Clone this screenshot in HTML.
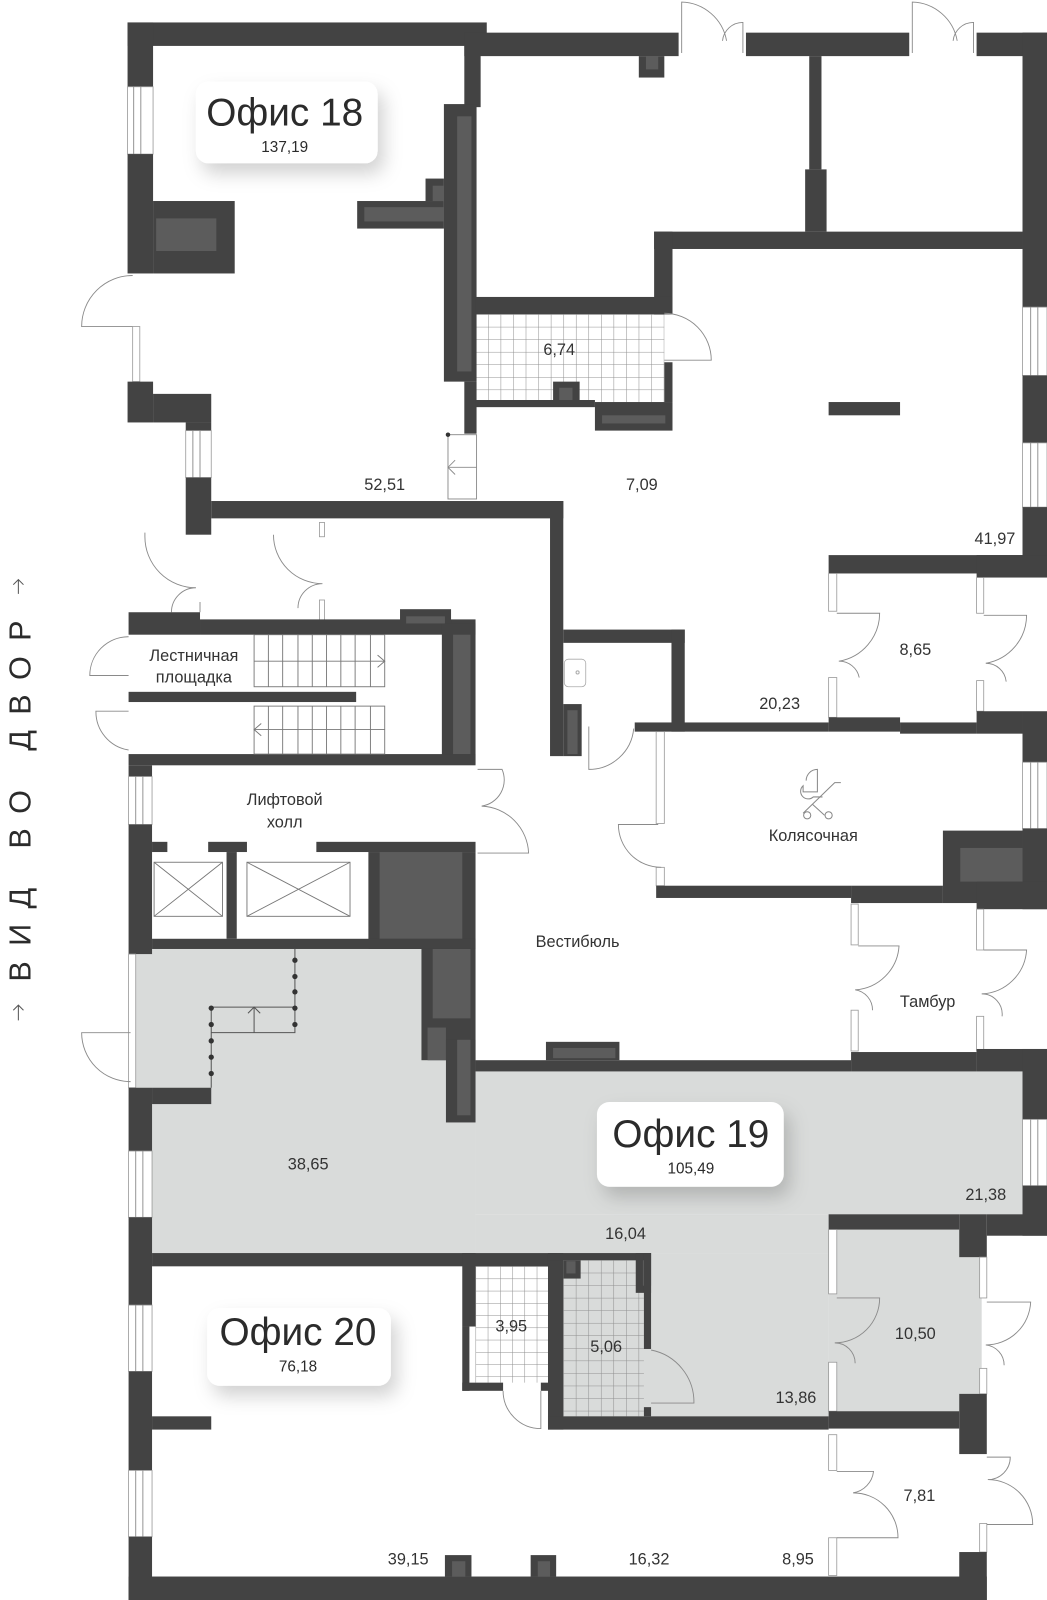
<!DOCTYPE html>
<html><head><meta charset="utf-8"><style>
html,body{margin:0;padding:0;background:#fff;}
svg{display:block;}
text{font-family:"Liberation Sans","DejaVu Sans",sans-serif;fill:#2b2b2b;}
.w{fill:#434343;}
.g{fill:#5c5c5c;}
.l{fill:none;stroke:#8a8a8a;stroke-width:0.9;}
.win{fill:#fff;stroke:#9a9a9a;stroke-width:0.8;}
.a{font-size:16px;text-anchor:middle;fill:#333;}
</style></head><body>
<svg width="1047" height="1600" viewBox="0 0 1026 1568" preserveAspectRatio="none" xmlns="http://www.w3.org/2000/svg">
<defs>
<pattern id="tw" x="466" y="308" width="12.3" height="12.3" patternUnits="userSpaceOnUse"><rect width="12.3" height="12.3" fill="#fff"/><path d="M0,0H12.3M0,0V12.3" stroke="#8f8f8f" stroke-width="1"/></pattern>
<pattern id="tg" x="552" y="1235" width="12.3" height="12.3" patternUnits="userSpaceOnUse"><rect width="12.3" height="12.3" fill="#d9dbda"/><path d="M0,0H12.3M0,0V12.3" stroke="#8f8f8f" stroke-width="1"/></pattern>
<pattern id="tw2" x="466" y="1241" width="12" height="12" patternUnits="userSpaceOnUse"><rect width="12" height="12" fill="#fff"/><path d="M0,0H12M0,0V12" stroke="#8f8f8f" stroke-width="1"/></pattern>
<filter id="sh" x="-30%" y="-30%" width="160%" height="180%"><feDropShadow dx="6" dy="10" stdDeviation="9" flood-color="#000" flood-opacity="0.18"/></filter>
</defs>

<!-- grey office 19 floor -->
<g fill="#d9dbda">
<rect x="133" y="930" width="333" height="298"/>
<rect x="466" y="1050" width="536" height="140"/>
<rect x="466" y="1190" width="346" height="38"/>
<rect x="537" y="1228" width="275" height="160"/>
<rect x="812" y="1205" width="150" height="178"/>
</g>

<!-- tiles -->
<rect x="466" y="308" width="185" height="86" fill="url(#tw)"/>
<rect x="552" y="1235" width="79" height="153" fill="url(#tg)"/>
<rect x="466" y="1241" width="71" height="114" fill="url(#tw2)"/>

<!-- ===== Office 18 ===== -->
<rect class="w" x="125" y="22" width="352" height="23"/>
<rect class="w" x="455" y="32" width="210" height="23"/>
<rect class="w" x="731" y="32" width="160" height="23"/>
<rect class="w" x="957" y="32" width="69" height="23"/>
<rect class="w" x="125" y="22" width="25" height="63"/>
<rect class="win" x="125" y="85" width="25" height="66"/><line class="l" x1="131" y1="85" x2="131" y2="151"/><line class="l" x1="138" y1="85" x2="138" y2="151"/>
<rect class="w" x="125" y="151" width="25" height="117"/>
<rect class="w" x="150" y="197" width="80" height="71"/><rect class="g" x="153" y="214" width="59" height="32"/>
<path class="l" d="M130,270 A50,50 0 0 0 80,320 L130,320"/>
<rect class="win" x="130" y="320" width="7" height="54"/>
<rect class="w" x="125" y="374" width="25" height="40"/>
<rect class="w" x="150" y="386" width="57" height="28"/>
<rect class="w" x="182" y="414" width="25" height="8"/>
<rect class="win" x="182" y="422" width="25" height="46"/><line class="l" x1="189" y1="422" x2="189" y2="468"/><line class="l" x1="196" y1="422" x2="196" y2="468"/>
<rect class="w" x="182" y="468" width="25" height="56"/>
<rect class="w" x="207" y="491" width="345" height="17"/>
<!-- central vertical -->
<rect class="w" x="455" y="45" width="16" height="60"/>
<rect class="w" x="435" y="102" width="32" height="272"/>
<rect class="g" x="448" y="114" width="14" height="250"/>
<rect class="w" x="455" y="374" width="12" height="51"/>
<rect class="w" x="417" y="175" width="18" height="22"/><rect class="g" x="424" y="182" width="11" height="15"/>
<rect class="w" x="350" y="197" width="85" height="27"/><rect class="g" x="357" y="203" width="78" height="14"/>
<rect fill="none" stroke="#8a8a8a" stroke-width="0.9" x="439" y="426" width="28" height="63"/>
<line class="l" x1="439" y1="458" x2="467" y2="458"/><path class="l" d="M446,451 L439,458 L446,465"/>
<circle cx="439" cy="426" r="2.2" fill="#333"/>

<!-- upper right rooms -->
<rect class="w" x="626" y="55" width="25" height="21"/><rect class="g" x="633" y="55" width="12" height="13"/>
<rect class="w" x="793" y="55" width="12" height="111"/>
<rect class="w" x="789" y="166" width="21" height="61"/>
<rect class="w" x="641" y="227" width="361" height="17"/>
<rect class="w" x="641" y="227" width="18" height="81"/>
<rect class="w" x="466" y="291" width="193" height="17"/>
<rect class="w" x="466" y="392" width="117" height="7"/>
<rect class="w" x="542" y="374" width="26" height="18"/><rect class="g" x="548" y="380" width="13" height="12"/>
<rect class="w" x="583" y="394" width="76" height="28"/><rect class="g" x="590" y="407" width="62" height="8"/>
<rect class="w" x="651" y="355" width="8" height="39"/>
<path class="l" d="M651,307 A46,46 0 0 1 697,353 L651,353"/>
<rect class="w" x="812" y="394" width="70" height="13"/>
<rect class="w" x="1002" y="32" width="24" height="269"/>
<rect class="win" x="1002" y="301" width="24" height="67"/><line class="l" x1="1010" y1="301" x2="1010" y2="368"/><line class="l" x1="1017" y1="301" x2="1017" y2="368"/>
<rect class="w" x="1002" y="368" width="24" height="66"/>
<rect class="win" x="1002" y="434" width="24" height="63"/><line class="l" x1="1010" y1="434" x2="1010" y2="497"/><line class="l" x1="1017" y1="434" x2="1017" y2="497"/>
<rect class="w" x="1002" y="497" width="24" height="66"/>
<!-- top doors -->
<path class="l" d="M668,52 L668,2 A46,46 0 0 1 712,40 M728,52 L728,22 A20,20 0 0 0 708,40"/>
<path class="l" d="M894,52 L894,2 A46,46 0 0 1 938,40 M954,52 L954,22 A20,20 0 0 0 934,40"/>

<!-- 8.65 -->
<rect class="w" x="812" y="544" width="214" height="18"/>
<rect class="w" x="957" y="544" width="69" height="22"/>
<rect class="win" x="812" y="562" width="8" height="37"/><rect class="win" x="812" y="664" width="8" height="39"/>
<rect class="win" x="957" y="566" width="7" height="35"/><rect class="win" x="957" y="667" width="7" height="30"/>
<path class="l" d="M820,601 L862,601 A48,48 0 0 1 822,648 A20,20 0 0 1 842,664"/>
<path class="l" d="M964,603 L1006,603 A48,48 0 0 1 966,650 A20,20 0 0 1 986,668"/>

<!-- vestibule left wall + WC -->
<rect class="w" x="539" y="491" width="13" height="250"/>
<rect class="w" x="552" y="690" width="18" height="51"/><rect class="g" x="556" y="696" width="10" height="43"/>
<rect class="w" x="552" y="617" width="119" height="13"/>
<rect class="w" x="658" y="617" width="13" height="100"/>
<rect class="w" x="622" y="708" width="190" height="9"/>
<rect class="w" x="812" y="703" width="70" height="14"/>
<rect class="w" x="882" y="708" width="75" height="11"/>
<rect class="w" x="957" y="697" width="45" height="22"/>
<rect class="w" x="1002" y="697" width="24" height="50"/>
<rect x="553" y="646" width="21" height="27" rx="4" fill="none" stroke="#aaa" stroke-width="0.8"/><circle cx="566" cy="659" r="1.5" fill="none" stroke="#aaa"/>
<path class="l" d="M577,712 L577,754 A44,44 0 0 0 621,714"/>
<!-- Kolyaska -->
<rect class="win" x="643" y="717" width="8" height="90"/><rect class="win" x="643" y="850" width="8" height="18"/>
<path class="l" d="M645,808 L606,808 A42,42 0 0 0 648,850"/>
<rect class="win" x="1002" y="747" width="24" height="65"/><line class="l" x1="1010" y1="747" x2="1010" y2="812"/><line class="l" x1="1017" y1="747" x2="1017" y2="812"/>
<rect class="w" x="1002" y="812" width="24" height="79"/>
<rect class="w" x="924" y="814" width="78" height="71"/><rect class="g" x="941" y="831" width="61" height="33"/>
<rect class="w" x="643" y="868" width="191" height="12"/>
<rect class="w" x="834" y="868" width="90" height="17"/>
<rect class="w" x="957" y="864" width="69" height="27"/>
<g fill="none" stroke="#888" stroke-width="1">
<path d="M790,765 A11,11 0 0 1 801,754 L801,776 L787,776 L787,770 A6,6 0 0 0 797,781 L806,781"/>
<path d="M787,797 L818,767 L824,767"/><path d="M796,788 L808,799"/>
<circle cx="791" cy="799" r="3.5"/><circle cx="812" cy="799" r="3.5"/>
</g>
<!-- Tambur -->
<rect class="win" x="834" y="886" width="7" height="40"/><rect class="win" x="834" y="990" width="7" height="40"/>
<rect class="win" x="957" y="891" width="7" height="40"/><rect class="win" x="957" y="996" width="7" height="34"/>
<path class="l" d="M841,927 L881,927 A46,46 0 0 1 838,970 A20,20 0 0 1 855,990"/>
<path class="l" d="M964,931 L1006,931 A46,46 0 0 1 962,974 A20,20 0 0 1 982,996"/>

<!-- stairs block -->
<path class="l" d="M142,522 L142,526 A50,50 0 0 0 192,576 A24,24 0 0 0 168,600 M196,590 L196,600"/>
<path class="l" d="M268,524 A48,48 0 0 0 316,572 A24,24 0 0 0 292,596"/>
<rect class="win" x="313" y="512" width="5" height="14"/><rect class="win" x="313" y="588" width="5" height="24"/>
<rect class="w" x="126" y="600" width="70" height="22"/>
<rect class="w" x="196" y="607" width="270" height="15"/>
<rect class="w" x="392" y="597" width="50" height="14"/><rect class="g" x="398" y="604" width="38" height="7"/>
<rect class="w" x="433" y="611" width="33" height="138"/><rect class="g" x="444" y="622" width="17" height="117"/>
<rect class="w" x="126" y="678" width="223" height="10"/>
<rect class="w" x="126" y="739" width="340" height="11"/>
<g stroke="#777" stroke-width="0.9" fill="none">
<rect x="249" y="622" width="128" height="51"/><line x1="249" y1="648" x2="377" y2="648"/>
<rect x="249" y="692" width="128" height="47"/><line x1="249" y1="715" x2="377" y2="715"/>
<path d="M263,622V673M277,622V673M292,622V673M306,622V673M320,622V673M334,622V673M348,622V673M363,622V673"/>
<path d="M263,692V739M277,692V739M292,692V739M306,692V739M320,692V739M334,692V739M348,692V739M363,692V739"/>
<path d="M370,642 L377,648 L370,654"/><path d="M256,709 L249,715 L256,721"/>
</g>
<path class="l" d="M126,624 A38,38 0 0 0 88,662 L126,662 M126,697 L94,697 A38,38 0 0 0 126,735"/>
<!-- lift hall -->
<rect class="w" x="126" y="750" width="23" height="11"/>
<rect class="win" x="126" y="761" width="23" height="47"/><line class="l" x1="133" y1="761" x2="133" y2="808"/><line class="l" x1="140" y1="761" x2="140" y2="808"/>
<rect class="w" x="126" y="808" width="23" height="127"/>
<rect class="w" x="149" y="825" width="15" height="10"/>
<rect class="w" x="204" y="825" width="38" height="10"/>
<rect class="w" x="310" y="825" width="156" height="10"/>
<rect class="w" x="222" y="835" width="10" height="85"/>
<rect class="w" x="361" y="835" width="105" height="95"/><rect class="g" x="372" y="835" width="81" height="85"/>
<g stroke="#777" stroke-width="0.9" fill="none">
<rect x="151" y="845" width="67" height="53"/><path d="M151,845L218,898M218,845L151,898"/>
<rect x="242" y="845" width="101" height="53"/><path d="M242,845L343,898M343,845L242,898"/>
</g>
<rect class="w" x="149" y="920" width="317" height="10"/>
<path class="l" d="M468,754 L492,754 A26,26 0 0 1 472,790 A48,48 0 0 1 518,836 L468,836"/>
<!-- vestibule / office 19 separators -->
<rect class="w" x="413" y="930" width="53" height="109"/>
<rect class="g" x="424" y="930" width="37" height="68"/>
<rect class="g" x="419" y="1007" width="18" height="32"/>
<rect class="w" x="437" y="1019" width="29" height="81"/><rect class="g" x="448" y="1019" width="13" height="74"/>
<rect class="w" x="466" y="1039" width="368" height="11"/>
<rect class="w" x="535" y="1021" width="72" height="18"/><rect class="g" x="542" y="1027" width="61" height="10"/>
<rect class="w" x="834" y="1031" width="123" height="19"/>
<rect class="w" x="957" y="1028" width="69" height="22"/>
<rect class="w" x="1002" y="1028" width="24" height="69"/>
<rect class="win" x="1002" y="1097" width="24" height="65"/><line class="l" x1="1010" y1="1097" x2="1010" y2="1162"/><line class="l" x1="1017" y1="1097" x2="1017" y2="1162"/>
<rect class="w" x="1002" y="1162" width="24" height="49"/>
<rect class="w" x="812" y="1190" width="128" height="15"/>
<rect class="w" x="940" y="1190" width="27" height="42"/>
<rect class="w" x="967" y="1190" width="59" height="21"/>
<!-- office 19 left + railing -->
<rect class="win" x="126" y="935" width="7" height="131"/>
<path class="l" d="M128,1012 L80,1012 A48,48 0 0 0 128,1060"/>
<rect class="w" x="126" y="1066" width="23" height="62"/>
<rect class="w" x="149" y="1066" width="58" height="16"/>
<g stroke="#555" stroke-width="1" fill="none">
<path d="M289,930 L289,1012 L207,1012 M207,987 L289,987 M207,987 L207,1066"/>
<path d="M249,1012 V987 M243,993 L249,987 L255,993"/>
</g>
<g fill="#333"><circle cx="289" cy="941" r="2.6"/><circle cx="289" cy="957" r="2.6"/><circle cx="289" cy="972" r="2.6"/><circle cx="289" cy="988" r="2.6"/><circle cx="289" cy="1004" r="2.6"/>
<circle cx="207" cy="988" r="2.6"/><circle cx="207" cy="1004" r="2.6"/><circle cx="207" cy="1020" r="2.6"/><circle cx="207" cy="1036" r="2.6"/><circle cx="207" cy="1052" r="2.6"/></g>
<!-- office 20 walls -->
<rect class="win" x="126" y="1128" width="23" height="65"/><line class="l" x1="133" y1="1128" x2="133" y2="1193"/><line class="l" x1="140" y1="1128" x2="140" y2="1193"/>
<rect class="w" x="126" y="1193" width="23" height="86"/>
<rect class="win" x="126" y="1279" width="23" height="65"/><line class="l" x1="133" y1="1279" x2="133" y2="1344"/><line class="l" x1="140" y1="1279" x2="140" y2="1344"/>
<rect class="w" x="126" y="1344" width="23" height="97"/>
<rect class="win" x="126" y="1441" width="23" height="65"/><line class="l" x1="133" y1="1441" x2="133" y2="1506"/><line class="l" x1="140" y1="1441" x2="140" y2="1506"/>
<rect class="w" x="126" y="1506" width="23" height="62"/>
<rect class="w" x="149" y="1388" width="58" height="13"/>
<rect class="w" x="149" y="1228" width="397" height="13"/>
<rect class="w" x="453" y="1228" width="13" height="72"/>
<rect class="w" x="453" y="1300" width="7" height="63"/>
<rect class="w" x="453" y="1355" width="40" height="8"/>
<rect class="w" x="530" y="1355" width="7" height="8"/>
<path class="l" d="M493,1363 A37,37 0 0 0 530,1400 L530,1363"/>
<rect class="w" x="537" y="1228" width="15" height="173"/>
<rect class="w" x="537" y="1228" width="101" height="7"/>
<rect class="w" x="552" y="1235" width="17" height="18"/><rect class="g" x="555" y="1236" width="9" height="12"/>
<rect class="w" x="623" y="1228" width="15" height="39"/><rect class="g" x="630" y="1235" width="8" height="25"/>
<rect class="w" x="631" y="1228" width="7" height="94"/>
<rect class="w" x="631" y="1379" width="7" height="9"/>
<path class="l" d="M638,1323 A52,52 0 0 1 680,1375 L638,1375"/>
<rect class="w" x="537" y="1388" width="275" height="13"/>
<!-- 10.50 -->
<rect class="win" x="812" y="1205" width="8" height="63"/><rect class="win" x="812" y="1335" width="8" height="48"/>
<path class="l" d="M820,1272 L862,1272 A44,44 0 0 1 818,1316 A20,20 0 0 1 838,1336"/>
<rect class="win" x="960" y="1232" width="7" height="40"/><rect class="win" x="960" y="1341" width="7" height="25"/>
<path class="l" d="M967,1276 L1010,1276 A44,44 0 0 1 966,1318 A20,20 0 0 1 984,1338"/>
<rect class="w" x="812" y="1383" width="128" height="17"/>
<rect class="w" x="940" y="1366" width="27" height="59"/>
<!-- 7.81 -->
<rect class="win" x="812" y="1406" width="8" height="35"/><rect class="win" x="812" y="1507" width="8" height="37"/>
<path class="l" d="M820,1442 L856,1442 A24,24 0 0 1 836,1463 A44,44 0 0 1 880,1507 L820,1507"/>
<rect class="win" x="960" y="1493" width="7" height="28"/>
<path class="l" d="M967,1428 L990,1428 A22,22 0 0 1 968,1450 A44,44 0 0 1 1012,1494 L967,1494"/>
<rect class="w" x="940" y="1521" width="27" height="47"/>
<rect class="w" x="126" y="1545" width="841" height="23"/>
<rect class="w" x="436" y="1524" width="26" height="21"/><rect class="g" x="443" y="1530" width="13" height="15"/>
<rect class="w" x="520" y="1524" width="25" height="21"/><rect class="g" x="527" y="1530" width="12" height="15"/>

<!-- office label boxes -->
<g filter="url(#sh)">
<rect x="192" y="80" width="178" height="80" rx="12" fill="#fff"/>
<rect x="585" y="1080" width="183" height="83" rx="12" fill="#fff"/>
<rect x="203" y="1282" width="180" height="76" rx="12" fill="#fff"/>
</g>
<text x="279" y="123" font-size="38" text-anchor="middle" fill="#222">Офис 18</text>
<text x="279" y="149" font-size="15" text-anchor="middle">137,19</text>
<text x="677" y="1124" font-size="38" text-anchor="middle" fill="#222">Офис 19</text>
<text x="677" y="1150" font-size="15" text-anchor="middle">105,49</text>
<text x="292" y="1318" font-size="38" text-anchor="middle" fill="#222">Офис 20</text>
<text x="292" y="1344" font-size="15" text-anchor="middle">76,18</text>

<!-- area labels -->
<text class="a" x="377" y="480">52,51</text>
<text class="a" x="629" y="480">7,09</text>
<text class="a" x="548" y="348">6,74</text>
<text class="a" x="975" y="533">41,97</text>
<text class="a" x="897" y="642">8,65</text>
<text class="a" x="764" y="695">20,23</text>
<text class="a" x="797" y="824">Колясочная</text>
<text class="a" x="909" y="987">Тамбур</text>
<text class="a" x="566" y="928">Вестибюль</text>
<text class="a" x="279" y="789">Лифтовой</text>
<text class="a" x="279" y="811">холл</text>
<text class="a" x="190" y="648">Лестничная</text>
<text class="a" x="190" y="669">площадка</text>
<text class="a" x="302" y="1146">38,65</text>
<text class="a" x="966" y="1176">21,38</text>
<text class="a" x="613" y="1214">16,04</text>
<text class="a" x="897" y="1312">10,50</text>
<text class="a" x="780" y="1375">13,86</text>
<text class="a" x="501" y="1305">3,95</text>
<text class="a" x="594" y="1325">5,06</text>
<text class="a" x="901" y="1471">7,81</text>
<text class="a" x="400" y="1533">39,15</text>
<text class="a" x="636" y="1533">16,32</text>
<text class="a" x="782" y="1533">8,95</text>

<!-- side caption -->
<text transform="translate(30,962) rotate(-90)" font-size="30" textLength="354" lengthAdjust="spacing" fill="#333">ВИД ВО ДВОР</text>
<g stroke="#555" stroke-width="1" fill="none">
<path d="M18,568 V582 M13,573 L18,568 L23,573"/>
<path d="M18,985 V1000 M13,990 L18,985 L23,990"/>
</g>
</svg>
</body></html>
